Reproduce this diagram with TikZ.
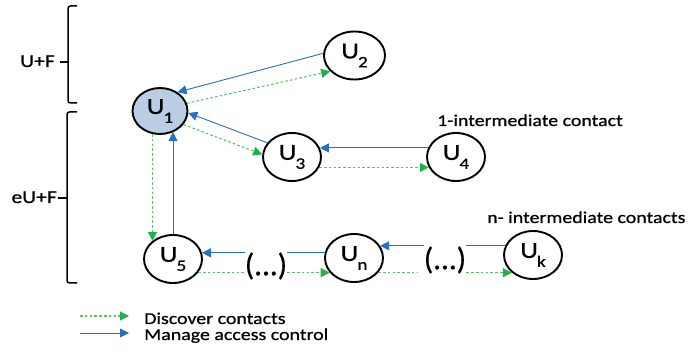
\documentclass[tikz,border=0pt]{standalone}
\usepackage{fontspec}
\setmainfont{Carlito}[FakeStretch=1.2,RawFeature={embolden=0.7}]
\newfontfamily\dotsfont{Carlito}[RawFeature={embolden=0.7}]
\usetikzlibrary{arrows.meta,shapes.geometric}

\definecolor{ctrlblue}{RGB}{38,112,196}
\definecolor{discgreen}{RGB}{95,192,105}
\definecolor{tipgreen}{RGB}{30,178,72}
\definecolor{selfill}{RGB}{187,205,229}

% user label: U with a lowered index
\newcommand{\usr}[1]{U\kern-1pt\raisebox{-9pt}{\fontsize{16}{16}\selectfont #1}}

\begin{document}
\begin{tikzpicture}[x=1pt,y=-1pt,
  user/.style={ellipse, draw=black, line width=1.9pt, minimum width=58pt,
    minimum height=48pt, inner sep=0pt, font=\fontsize{23}{23}\selectfont},
  gapnode/.style={inner sep=0pt, font=\dotsfont\fontsize{31}{31}\selectfont},
  lbl/.style={inner sep=0pt, font=\fontsize{16.6}{16.6}\selectfont},
  ctrl/.style={draw=ctrlblue, line width=0.9pt},
  ctrltip/.style={-{Triangle[length=9pt,width=9pt]}},
  disc/.style={draw=discgreen, line width=1.1pt, dash pattern=on 2.6pt off 2.2pt},
  disctip/.style={-{Triangle[length=9pt,width=9pt,color=tipgreen]}},
  bracket/.style={draw=black, line width=1.5pt, rounded corners=2.5pt}
]
\useasboundingbox (0,0) rectangle (699,352);

% group brackets
\draw[bracket] (77,6) -- (68,6) -- (68,103) -- (77,103);
\draw[bracket] (68,62) -- (60,62);
\draw[bracket] (77,112) -- (67,112) -- (67,283) -- (77,283);
\draw[bracket] (67,198) -- (58,198);
\node[lbl, anchor=base east, font=\fontsize{18}{18}\selectfont] (uf) at (55,67) {U+F};
\node[lbl, anchor=base east, font=\fontsize{18}{18}\selectfont] (euf) at (57,203) {eU+F};

% users
\node[user, fill=selfill, minimum width=55pt, minimum height=46pt] (U1) at (160,111) {\usr{1}};
\node[user, minimum width=61pt] (U2) at (354.5,55.5) {\usr{2}};
\node[user] (U3) at (292,157) {\usr{3}};
\node[user] (U4) at (456,157) {\usr{4}};
\node[user] (U5) at (173,259) {\usr{5}};
\node[user] (Un) at (354,258) {\usr{n}};
\node[user] (Uk) at (533,255) {\usr{k}};
\node[gapnode] (D1) at (266,266) {(...)};
\node[gapnode] (D2) at (445,260) {(...)};

\node[lbl, anchor=base west] (t1) at (437,126) {1-intermediate contact};
\node[lbl, anchor=base west] (tn) at (487,223) {n- intermediate contacts};

% direct contacts
\draw[ctrl, ctrltip] (U2.176) -- (U1.47);
\draw[disc, disctip] (U1.16) -- (U2.213);
\draw[ctrl, ctrltip] (U3.150) -- (U1.-4);
\draw[disc, disctip] (U1.-30) -- (U3.175);

% one intermediate contact
\draw[ctrl, ctrltip] (U4.162) -- (U3.18);
\draw[disc, disctip] (U3.-21) -- (U4.201);

% down to the chain
\draw[disc, disctip] (U1.252) -- (U1.252 |- U5.139);
\draw[ctrl, ctrltip] (U5.north) -- (U5.north |- U1.-57);

% chain of n intermediate contacts
\draw[ctrl, ctrltip] (D1.west |- U5.12) -- (U5.12);
\draw[ctrl] (Un.170) -- (D1.east |- Un.170);
\draw[disc] (U5.-28) -- (D1.west |- U5.-28);
\draw[disc, disctip] (D1.east |- Un.211) -- (Un.211);
\draw[ctrl, ctrltip] (D2.west |- Un.25) -- (Un.25);
\draw[ctrl] (Uk.162) -- (D2.east |- Uk.162);
\draw[disc, shorten >=6pt] (Un.-31) -- (D2.west |- Un.-31);
\draw[disc, disctip] (D2.east |- Uk.220) -- (Uk.220);

% legend
\coordinate (g0) at (80,316);
\coordinate (g1) at (129,316);
\coordinate (b0) at (80,333);
\coordinate (b1) at (129,333);
\draw[disc, disctip] (g0) -- (g1);
\draw[ctrl, ctrltip] (b0) -- (b1);
\node[lbl, anchor=base west] (ldisc) at (144,324) {Discover contacts};
\node[lbl, anchor=base west] (lctrl) at (144,340) {Manage access control};
\end{tikzpicture}
\end{document}
